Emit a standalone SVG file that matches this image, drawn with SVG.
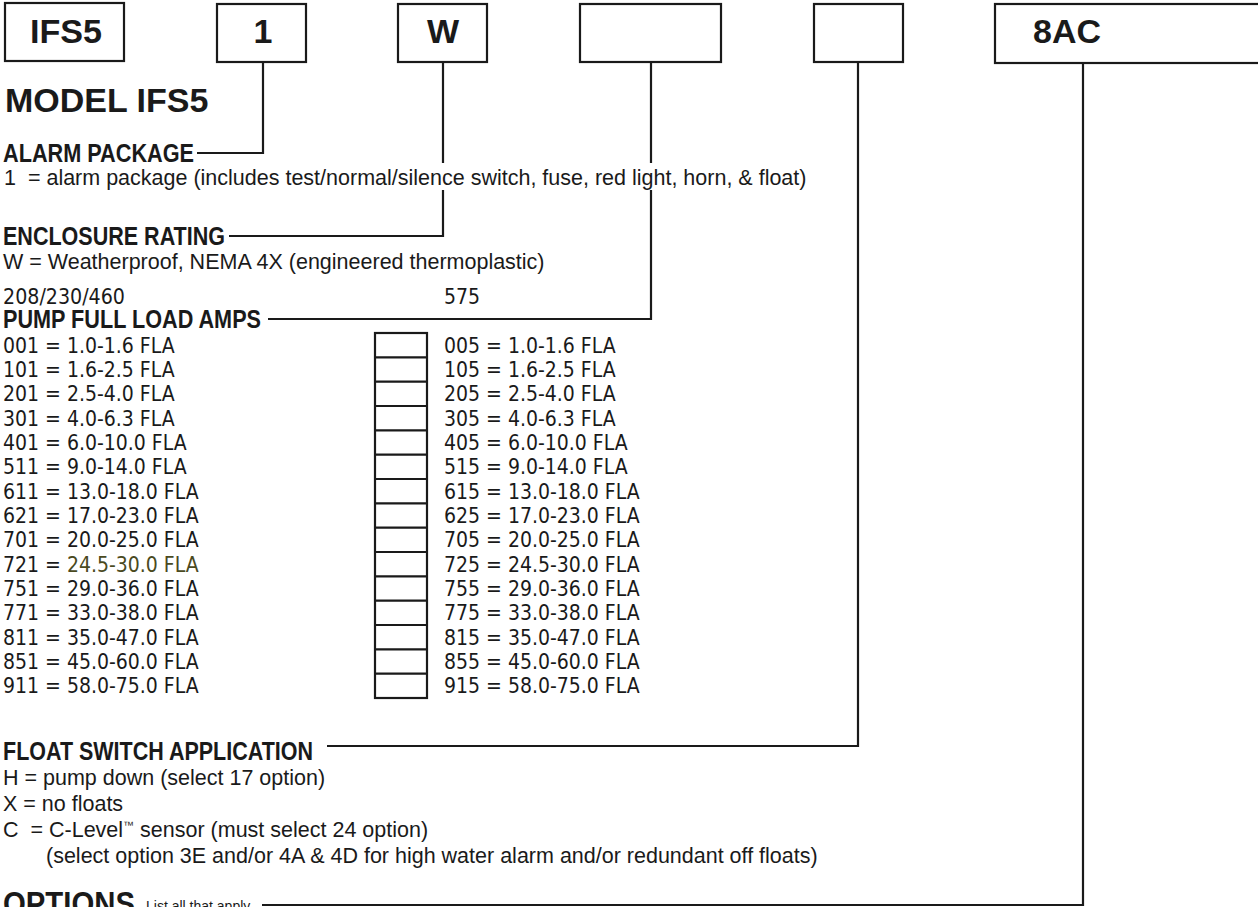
<svg xmlns="http://www.w3.org/2000/svg" width="1258" height="907" viewBox="0 0 1258 907">
<style>
  .bx { fill: #fff; stroke: #1a1a1a; stroke-width: 2.2; }
  .cn { fill: none; stroke: #1a1a1a; stroke-width: 2.2; }
  .big { font-family: "Liberation Sans", Arial, sans-serif; font-weight: bold; font-size: 34px; fill: #1a1a1a; }
  .hd { font-family: "Liberation Sans", Arial, sans-serif; font-weight: bold; font-size: 25px; fill: #1a1a1a; }
  .bd { font-family: "Liberation Sans", Arial, sans-serif; font-size: 21.5px; fill: #1a1a1a; }
  .ls { font-family: "DejaVu Sans Condensed", "DejaVu Sans", sans-serif; font-size: 21px; fill: #1a1a1a; }
  .ol { fill: #4a4a1e; }
  .sm { font-family: "Liberation Sans", Arial, sans-serif; font-size: 14px; fill: #1a1a1a; }
</style>
<rect width="1258" height="907" fill="#fff"/>

<g id="box-ifs5"><rect class="bx" x="5" y="3" width="119" height="58"/><text class="big" x="30" y="43" font-size="37" textLength="72" lengthAdjust="spacingAndGlyphs">IFS5</text></g>
<g id="box-alarm"><rect class="bx" x="217" y="4" width="89" height="58"/><text class="big" x="263" y="43" text-anchor="middle">1</text></g>
<g id="box-enclosure"><rect class="bx" x="398" y="4" width="89" height="58"/><text class="big" x="443" y="43" text-anchor="middle">W</text></g>
<g id="box-amps"><rect class="bx" x="580" y="4" width="141" height="58"/></g>
<g id="box-float"><rect class="bx" x="814" y="4" width="89" height="58"/></g>
<g id="box-options"><rect class="bx" x="995" y="4" width="270" height="59"/><text class="big" x="1033" y="43">8AC</text></g>

<g id="connectors">
  <path class="cn" d="M263,62 V153 H197"/>
  <path class="cn" d="M443,62 V163 M443,190 V236 H229"/>
  <path class="cn" d="M651,62 V163 M651,190 V319 H268"/>
  <path class="cn" d="M858,62 V746 H327"/>
  <path class="cn" d="M1083,63 V905 H262"/>
</g>

<g id="title"><text class="big" x="5" y="112" font-size="34.5">MODEL IFS5</text></g>

<g id="alarm-package">
  <text class="hd" x="3" y="162" textLength="191" lengthAdjust="spacingAndGlyphs">ALARM PACKAGE</text>
  <text class="bd" x="4" y="185" xml:space="preserve">1  = alarm package (includes test/normal/silence switch, fuse, red light, horn, &amp; float)</text>
</g>

<g id="enclosure-rating">
  <text class="hd" x="3" y="245" textLength="222" lengthAdjust="spacingAndGlyphs">ENCLOSURE RATING</text>
  <text class="bd" x="3" y="269">W = Weatherproof, NEMA 4X (engineered thermoplastic)</text>
</g>

<g id="pump-amps">
  <text class="ls" x="3" y="304" font-size="19.5" textLength="122" lengthAdjust="spacingAndGlyphs">208/230/460</text>
  <text class="ls" x="444" y="304" font-size="19.5">575</text>
  <text class="hd" x="3" y="328" font-size="23" textLength="258" lengthAdjust="spacingAndGlyphs">PUMP FULL LOAD AMPS</text>
  <g id="amp-boxes">
    <rect class="bx" x="375" y="333" width="52" height="365"/>
    <path class="cn" d="M375,357.3 H427 M375,381.7 H427 M375,406 H427 M375,430.3 H427 M375,454.7 H427 M375,479 H427 M375,503.3 H427 M375,527.7 H427 M375,552 H427 M375,576.3 H427 M375,600.7 H427 M375,625 H427 M375,649.3 H427 M375,673.7 H427"/>
  </g>
  <g xml:space="preserve">
    <text class="ls" x="3" y="353">001 =  1.0-1.6 FLA</text>
    <text class="ls" x="3" y="377">101 =  1.6-2.5 FLA</text>
    <text class="ls" x="3" y="401.3">201 =  2.5-4.0 FLA</text>
    <text class="ls" x="3" y="425.7">301 =  4.0-6.3 FLA</text>
    <text class="ls" x="3" y="450">401 =  6.0-10.0 FLA</text>
    <text class="ls" x="3" y="474.3">511 =  9.0-14.0 FLA</text>
    <text class="ls" x="3" y="498.7">611 =  13.0-18.0 FLA</text>
    <text class="ls" x="3" y="523">621 =  17.0-23.0 FLA</text>
    <text class="ls" x="3" y="547.3">701 =  20.0-25.0 FLA</text>
    <text class="ls" x="3" y="571.7">721 =  <tspan class="ol">24.5-30.0 FLA</tspan></text>
    <text class="ls" x="3" y="596">751 =  29.0-36.0 FLA</text>
    <text class="ls" x="3" y="620.3">771 =  33.0-38.0 FLA</text>
    <text class="ls" x="3" y="644.7">811 =  35.0-47.0 FLA</text>
    <text class="ls" x="3" y="669">851 =  45.0-60.0 FLA</text>
    <text class="ls" x="3" y="693.3">911 =  58.0-75.0 FLA</text>

    <text class="ls" x="444" y="353">005  =  1.0-1.6 FLA</text>
    <text class="ls" x="444" y="377">105  =  1.6-2.5 FLA</text>
    <text class="ls" x="444" y="401.3">205  =  2.5-4.0 FLA</text>
    <text class="ls" x="444" y="425.7">305  =  4.0-6.3 FLA</text>
    <text class="ls" x="444" y="450">405  =  6.0-10.0 FLA</text>
    <text class="ls" x="444" y="474.3">515  =  9.0-14.0 FLA</text>
    <text class="ls" x="444" y="498.7">615  =  13.0-18.0 FLA</text>
    <text class="ls" x="444" y="523">625  =  17.0-23.0 FLA</text>
    <text class="ls" x="444" y="547.3">705  =  20.0-25.0 FLA</text>
    <text class="ls" x="444" y="571.7">725 =  24.5-30.0 FLA</text>
    <text class="ls" x="444" y="596">755 =  29.0-36.0 FLA</text>
    <text class="ls" x="444" y="620.3">775 =  33.0-38.0 FLA</text>
    <text class="ls" x="444" y="644.7">815 =  35.0-47.0 FLA</text>
    <text class="ls" x="444" y="669">855 =  45.0-60.0 FLA</text>
    <text class="ls" x="444" y="693.3">915 =  58.0-75.0 FLA</text>
  </g>
</g>

<g id="float-switch">
  <text class="hd" x="3" y="760" textLength="310" lengthAdjust="spacingAndGlyphs">FLOAT SWITCH APPLICATION</text>
  <text class="bd" x="3" y="785">H = pump down (select 17 option)</text>
  <text class="bd" x="3" y="811">X = no floats</text>
  <text class="bd" x="3" y="837" xml:space="preserve">C  = C-Level<tspan font-size="11" dy="-8">™</tspan><tspan dy="8"> sensor (must select 24 option)</tspan></text>
  <text class="bd" x="46" y="863">(select option 3E and/or 4A &amp; 4D for high water alarm and/or redundant off floats)</text>
</g>

<g id="options">
  <text class="big" x="3" y="915" font-size="32" textLength="132" lengthAdjust="spacingAndGlyphs">OPTIONS</text>
  <text class="sm" x="146" y="911">List all that apply</text>
</g>
</svg>
